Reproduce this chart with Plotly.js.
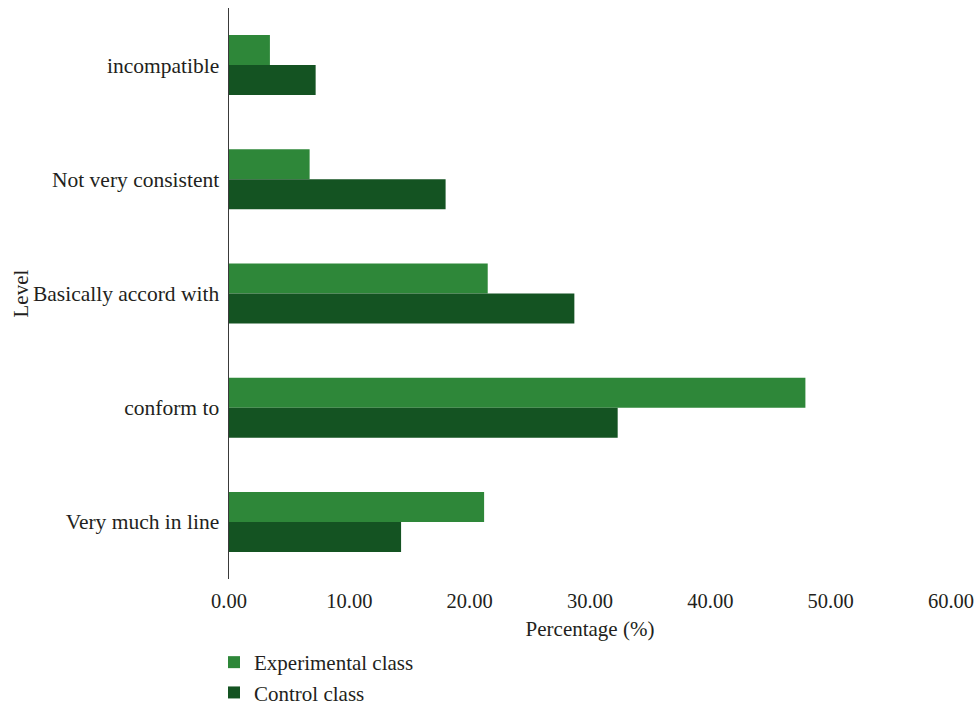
<!DOCTYPE html>
<html>
<head>
<meta charset="utf-8">
<script src="https://cdn.plot.ly/plotly-3.0.1.min.js"></script>
<style>
  html, body { margin: 0; padding: 0; background: #ffffff; }
  #chart { width: 977px; height: 707px; }
</style>
</head>
<body>
<div id="chart"></div>
<script>
// Agreement levels, listed top to bottom
const levels = [
  "incompatible",
  "Not very consistent",
  "Basically accord with",
  "conform to",
  "Very much in line"
];

// Share of students (%) at each level
const experimentalClass = [3.4, 6.7, 21.5, 47.9, 21.2];
const controlClass = [7.2, 18.0, 28.7, 32.3, 14.3];

const xTicks = [0, 10, 20, 30, 40, 50, 60];
const xTickLabels = ["0.00", "10.00", "20.00", "30.00", "40.00", "50.00", "60.00"];

const serif = "'Liberation Serif', 'DejaVu Serif', serif";
const ink = "#231f20";

const traces = [
  {
    type: "bar",
    orientation: "h",
    name: "Experimental class",
    y: levels,
    x: experimentalClass,
    marker: { color: "#2e8739" },
    hoverinfo: "x+y+name"
  },
  {
    type: "bar",
    orientation: "h",
    name: "Control class",
    y: levels,
    x: controlClass,
    marker: { color: "#145322" },
    hoverinfo: "x+y+name"
  }
];

const layout = {
  width: 977,
  height: 707,
  margin: { l: 229, r: 26, t: 8, b: 128, autoexpand: false },
  paper_bgcolor: "#ffffff",
  plot_bgcolor: "#ffffff",
  font: { family: serif, size: 21, color: ink },
  barmode: "group",
  bargap: 0.475,
  bargroupgap: 0,
  showlegend: true,
  legend: {
    orientation: "v",
    xref: "container",
    yref: "container",
    x: 214 / 977,
    xanchor: "left",
    y: 1 - 642 / 707,
    yanchor: "top",
    font: { family: serif, size: 21, color: ink },
    tracegroupgap: 0,
    itemwidth: 30,
    bgcolor: "rgba(0,0,0,0)"
  },
  xaxis: {
    range: [0, 60],
    tickvals: xTicks,
    ticktext: xTickLabels,
    showgrid: false,
    zeroline: false,
    showline: false,
    ticks: "outside",
    ticklen: 3,
    tickcolor: "rgba(0,0,0,0)",
    tickfont: { family: serif, size: 20.5, color: ink },
    title: {
      text: "Percentage (%)",
      font: { family: serif, size: 21, color: ink },
      standoff: 10
    },
    automargin: false,
    fixedrange: true
  },
  yaxis: {
    type: "category",
    categoryorder: "array",
    categoryarray: levels,
    autorange: "reversed",
    showgrid: false,
    zeroline: false,
    showline: true,
    linecolor: "#3a3a3a",
    linewidth: 1.5,
    ticks: "",
    ticklabelstandoff: 4,
    tickfont: { family: serif, size: 21.5, color: ink },
    automargin: false,
    fixedrange: true
  },
  // Vertical axis name, set beside the category labels
  annotations: [
    {
      text: "Level",
      textangle: -90,
      xref: "paper",
      yref: "paper",
      x: (20 - 229) / 722,
      y: 0.5,
      xanchor: "center",
      yanchor: "middle",
      showarrow: false,
      font: { family: serif, size: 21, color: ink }
    }
  ]
};

Plotly.newPlot("chart", traces, layout, { displayModeBar: false, staticPlot: true });
</script>
</body>
</html>
